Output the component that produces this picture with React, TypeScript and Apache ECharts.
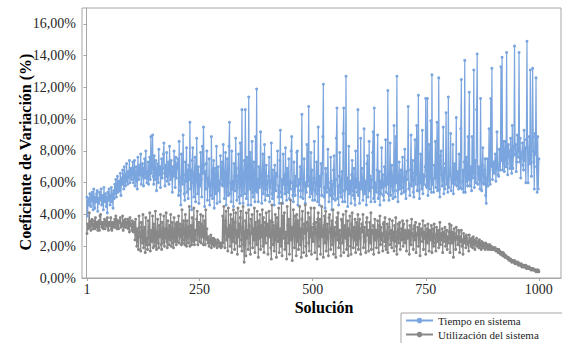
import React, { useEffect, useRef } from "react";
import * as echarts from "echarts";

// Coeficiente de variación (%) — Tiempo en sistema, by blocks of solutions
const tiempo001_100 = [5.1,3.9,4.8,5.0,4.6,5.3,4.9,4.5,5.2,5.4,4.9,4.3,5.6,5.0,4.4,5.1,4.8,5.3,5.5,4.2,5.0,4.7,5.4,4.9,5.1,5.6,4.6,4.9,5.2,4.3,5.7,5.0,4.8,5.3,4.5,5.1,4.1,5.4,4.9,5.6,5.0,4.6,5.2,5.7,4.8,5.3,4.4,5.5,5.0,5.9,5.3,6.2,5.1,5.6,6.4,5.4,5.8,6.1,5.5,6.6,5.2,6.3,5.9,6.8,6.0,5.6,7.0,6.2,5.8,6.5,7.2,6.1,5.9,6.7,6.3,7.4,6.0,6.6,6.9,6.2];
const tiempo101_200 = [6.8,7.3,6.0,6.5,7.4,5.8,6.3,7.0,6.1,5.6,7.6,6.7,6.2,7.1,6.5,7.8,5.9,6.4,7.2,6.6,5.8,6.9,7.5,6.3,8.0,6.7,6.0,6.4,7.3,5.9,6.8,7.6,6.2,8.9,6.6,7.0,9.0,6.4,5.9,7.7,6.2,6.9,7.4,5.5,6.7,7.2,6.0,8.1,6.5,7.0,5.7,6.8,7.5,6.3,6.9,7.8,8.5,6.6,5.8,7.1,6.4,7.9,6.1,6.7,7.3,5.9,8.3,6.8,6.2,7.4,6.6,5.4,7.0,6.4,8.0,6.9,5.7,7.6,6.3,7.2];
const tiempo201_300 = [6.9,7.5,5.2,8.6,6.3,5.5,4.6,7.8,6.4,5.9,9.0,6.5,5.3,4.9,7.3,6.1,8.2,5.4,6.8,5.0,7.1,6.2,9.8,5.6,6.8,4.3,7.4,8.2,6.0,5.1,6.6,7.6,4.8,6.1,8.8,6.4,5.3,7.0,4.7,6.5,5.8,7.9,6.2,5.1,8.3,6.6,9.5,7.1,4.5,6.7,5.6,7.2,8.0,4.9,6.3,5.8,7.5,4.6,6.0,5.2,8.9,6.2,5.0,6.8,7.4,4.4,6.9,5.7,5.3,8.3,4.7,6.4,7.0,5.5,6.1,4.8,7.7,5.9,6.6,7.3];
const tiempo301_400 = [5.8,8.4,6.2,5.0,6.7,7.9,4.6,5.4,7.5,6.1,5.2,8.3,9.8,5.3,6.0,4.8,8.0,5.6,6.1,4.5,7.2,6.4,5.5,8.8,6.9,4.9,5.7,6.4,7.8,5.1,4.7,8.5,6.2,5.2,10.6,5.9,4.7,6.6,7.4,5.3,10.6,6.8,5.0,7.6,5.8,4.6,11.4,6.3,5.6,7.9,4.6,6.3,8.6,5.4,5.1,7.3,6.0,4.8,8.9,5.5,11.9,5.4,6.2,4.8,7.0,5.7,5.9,9.2,6.4,4.7,6.5,7.8,5.3,6.0,8.4,4.9,5.6,7.1,6.1,5.2];
const tiempo401_500 = [5.2,6.4,7.6,4.8,5.7,6.1,8.5,5.3,5.0,6.8,5.7,4.6,7.1,5.9,5.5,6.6,6.4,8.0,5.1,5.8,4.7,7.4,9.3,5.4,5.1,6.2,4.7,7.8,5.9,6.5,5.3,8.2,5.6,4.9,6.9,6.6,5.4,7.5,5.0,6.1,5.6,8.0,8.9,6.0,5.2,4.8,7.3,5.7,5.2,6.4,5.8,7.9,8.0,4.6,5.5,6.2,5.9,7.0,5.1,6.7,10.3,5.5,5.0,6.3,7.5,5.8,4.7,6.0,5.4,8.4,5.8,6.1,10.8,6.3,5.1,5.6,7.9,5.3,6.8,4.9];
const tiempo501_600 = [5.6,6.3,8.6,4.9,5.5,6.0,7.3,5.3,4.8,9.5,5.9,4.6,6.4,5.8,7.2,5.2,6.6,8.9,12.2,5.1,5.7,4.4,6.9,6.5,5.4,5.7,8.1,6.0,4.8,5.6,5.2,7.6,6.1,4.3,5.9,5.0,6.8,7.7,5.3,4.9,6.2,8.8,10.7,5.0,5.8,4.6,6.4,7.9,5.4,5.1,6.2,6.7,4.8,9.1,10.7,5.5,4.8,6.0,12.7,5.6,6.3,4.5,5.9,8.3,5.3,5.7,6.1,4.7,6.5,7.4,5.5,5.2,6.9,5.0,4.6,8.0,5.7,6.2,5.4,10.6];
const tiempo601_700 = [5.2,6.0,4.7,5.8,8.8,5.6,6.9,6.3,4.9,5.5,9.4,5.3,6.1,5.8,4.6,7.2,7.7,5.1,5.6,8.6,5.5,6.4,4.8,6.2,5.7,7.9,9.2,5.0,10.7,4.8,6.0,5.6,5.4,6.8,9.0,5.0,5.7,6.7,4.6,6.1,5.3,8.2,5.7,6.5,5.2,4.9,7.0,5.8,8.7,5.4,6.3,5.9,11.8,5.3,4.9,6.6,8.5,5.2,5.8,7.1,6.4,5.0,5.5,9.6,6.2,5.1,8.9,6.0,12.7,5.5,4.8,6.4,7.3,5.6,5.9,6.8,5.3,6.6,7.6,5.7];
const tiempo701_800 = [5.4,6.3,8.1,5.5,5.0,6.7,6.2,7.4,10.8,5.6,5.9,5.2,6.8,9.0,5.8,6.3,7.4,5.4,5.1,6.6,8.7,5.9,6.9,9.6,5.5,6.1,11.5,5.5,5.0,6.4,7.8,6.0,5.6,9.3,5.3,6.5,5.9,6.4,7.0,11.3,5.8,5.7,11.3,5.2,6.1,8.4,5.6,6.8,9.9,5.4,12.8,5.9,6.2,5.4,7.1,6.3,8.6,5.7,6.6,9.8,5.5,6.0,12.6,5.6,5.1,7.7,8.0,6.5,5.8,6.2,9.5,5.3,6.9,5.6,7.2,10.4,5.9,6.3,5.4,11.4];
const tiempo801_900 = [5.7,6.6,6.4,9.1,5.5,6.2,6.0,8.4,5.3,6.5,7.2,5.9,6.3,10.1,5.8,6.2,6.7,5.6,7.8,6.0,5.7,9.4,12.5,5.6,6.1,6.8,5.4,7.3,13.7,5.4,6.4,7.6,6.1,5.8,8.9,6.2,11.7,5.8,6.5,7.0,5.5,8.9,6.3,6.7,13.1,5.7,6.3,7.4,6.0,10.6,14.1,5.9,6.6,7.0,6.2,5.6,11.3,6.4,5.5,7.1,8.2,6.0,5.9,6.8,7.5,5.2,4.7,6.3,7.5,5.8,6.6,9.4,6.1,5.9,11.3,7.0,13.2,6.2,6.8,7.3];
const tiempo901_1000 = [6.6,7.3,7.8,6.1,6.9,9.2,7.0,6.5,6.4,8.1,7.2,6.8,13.3,7.4,13.9,6.8,7.5,8.6,6.7,7.9,8.6,7.0,14.2,7.2,6.5,8.4,8.0,7.6,6.9,8.8,7.1,6.6,9.6,6.9,7.7,8.3,14.6,7.8,8.4,6.7,7.3,9.0,7.6,8.1,14.2,7.3,8.8,6.3,7.5,7.9,8.5,7.1,6.8,9.3,7.4,8.2,6.0,8.7,14.9,8.2,6.0,7.6,8.9,7.2,13.1,7.7,6.4,8.0,13.2,8.9,7.3,5.6,9.1,7.8,12.6,7.0,5.4,8.9,5.6,7.5];

// Coeficiente de variación (%) — Utilización del sistema
const util001_100 = [2.8,3.4,3.1,3.3,4.1,3.2,3.5,3.0,3.6,3.7,3.3,3.1,3.4,3.6,3.1,3.8,3.2,3.4,3.5,3.0,3.3,3.6,3.0,3.9,4.0,3.4,3.2,3.5,3.3,3.1,3.5,3.7,3.1,3.4,3.6,3.3,3.8,3.2,3.0,3.5,3.4,3.3,3.8,3.1,3.0,3.5,3.4,3.2,3.5,3.7,3.2,3.9,3.7,3.1,3.3,3.6,3.1,3.5,3.6,3.8,3.2,3.4,3.3,3.9,3.0,3.6,3.5,3.2,3.7,3.4,3.2,3.5,3.7,3.1,3.6,2.9,3.8,3.3,3.4,3.0];
const util101_200 = [3.6,3.3,2.9,3.5,3.3,2.4,3.7,3.0,2.0,3.1,2.6,1.8,3.9,3.2,2.6,1.7,3.5,2.8,2.2,4.0,1.9,2.7,3.2,1.6,3.8,2.1,2.5,1.8,3.6,2.9,2.1,4.1,1.7,2.4,3.0,2.3,3.9,1.9,3.4,2.6,2.0,4.2,2.4,1.8,2.9,3.7,2.2,1.9,3.3,2.6,4.0,2.1,1.8,3.5,2.7,2.2,3.9,2.0,3.1,2.5,4.1,2.3,1.9,3.6,2.8,2.1,3.3,2.4,4.0,2.0,2.7,3.5,2.2,1.9,3.8,2.6,2.3,3.4,2.1,3.5];
const util201_300 = [2.3,3.1,3.9,2.2,2.8,3.4,2.6,2.1,4.3,2.2,3.0,3.6,2.4,2.1,4.0,2.9,2.0,3.6,2.7,2.2,3.2,4.5,2.0,2.6,3.3,2.1,3.8,2.5,2.3,4.4,2.1,2.7,3.0,2.4,3.7,4.2,2.1,3.2,3.5,2.3,2.8,4.0,2.2,3.4,2.6,3.9,2.1,2.9,3.6,2.1,4.3,2.5,3.1,2.4,2.2,2.6,2.0,2.4,2.2,2.7,1.9,2.5,2.3,2.1,2.5,2.0,2.4,2.3,2.1,2.2,1.9,2.4,2.2,2.3,2.0,2.2,2.1,1.9,2.2,2.0];
const util301_400 = [3.9,2.2,4.5,2.8,1.9,3.6,4.2,2.4,3.1,1.7,4.4,2.6,3.3,2.0,4.0,2.9,1.6,3.7,2.3,4.3,2.7,1.8,3.5,4.1,2.2,3.0,1.5,4.4,2.6,3.4,2.0,3.8,4.2,2.4,1.7,3.2,4.5,2.1,1.0,2.9,3.6,1.4,4.1,2.5,3.0,1.8,4.3,3.3,2.2,1.5,3.7,2.8,4.0,1.9,3.1,2.4,4.4,1.6,3.5,2.7,2.1,4.2,3.0,1.3,3.6,2.5,4.0,1.8,3.3,2.6,4.3,2.0,3.8,1.6,2.9,3.5,2.2,4.1,2.7,3.4];
const util401_500 = [1.5,3.0,4.2,2.6,3.6,1.9,1.2,4.6,3.5,2.1,3.3,1.7,2.4,4.0,2.8,1.3,3.8,3.0,2.3,4.4,1.6,2.7,3.1,2.0,4.7,1.4,3.5,3.9,2.5,4.1,1.8,2.2,2.9,1.2,4.5,3.3,2.2,3.7,1.5,2.6,4.9,2.4,3.2,1.1,2.8,4.3,2.7,1.9,3.9,3.4,1.4,4.0,2.3,3.6,1.8,2.9,4.5,2.1,3.1,1.3,3.7,4.2,2.5,1.6,3.4,2.8,4.6,2.0,1.4,3.5,3.0,4.1,2.2,1.7,3.8,2.6,4.4,1.5,3.2,2.4];
const util501_600 = [2.3,3.4,4.4,1.6,2.9,3.5,2.8,1.2,3.7,4.1,2.0,3.2,3.7,1.5,2.7,4.5,2.6,3.1,1.3,3.3,3.9,2.2,4.2,1.7,2.6,3.4,2.5,1.4,3.8,4.0,2.9,1.8,3.1,3.6,2.1,4.3,1.5,2.8,3.2,2.7,1.3,3.5,3.8,2.4,4.1,1.9,2.6,3.0,2.2,1.4,3.7,3.6,2.2,4.0,1.6,2.9,3.3,2.5,4.2,1.8,2.3,3.6,1.4,3.1,2.7,3.9,2.0,1.5,3.4,4.1,2.6,1.9,3.2,2.4,3.7,1.6,2.8,3.5,2.1,4.0];
const util601_700 = [1.8,2.9,3.7,2.5,1.5,3.1,3.4,2.9,4.0,1.9,2.6,3.2,2.3,1.6,3.5,3.8,2.7,3.0,1.7,2.4,3.5,2.2,4.1,1.8,3.0,2.8,3.3,1.5,2.5,3.7,2.4,3.0,1.9,2.7,3.6,2.6,1.6,3.3,3.9,2.1,3.2,2.4,2.8,1.7,3.4,3.5,2.3,3.8,2.0,1.8,2.9,3.4,1.6,2.5,3.2,3.7,2.1,2.7,3.0,1.9,3.6,2.4,2.9,1.7,3.3,2.3,3.8,2.0,1.5,2.9,3.4,2.2,2.8,3.5,1.8,2.6,3.1,2.4,3.6,2.0];
const util701_800 = [3.4,2.6,2.2,3.0,2.8,1.7,3.6,2.5,3.0,2.9,1.5,3.3,2.4,2.1,3.7,2.8,2.6,1.8,3.1,3.3,2.4,3.5,1.6,2.7,2.8,3.2,2.0,2.9,3.4,1.4,2.7,3.1,3.0,2.3,3.6,1.8,2.9,2.5,3.3,1.5,2.6,3.1,2.2,3.4,2.9,1.7,3.0,2.4,2.8,3.3,1.6,2.6,3.1,2.0,3.4,2.7,2.2,1.7,3.2,2.8,2.3,3.0,1.9,2.6,3.5,2.1,2.8,2.4,3.1,1.6,2.9,2.3,2.7,3.2,2.0,2.5,3.0,1.8,2.6,2.2];
const util801_900 = [2.9,3.4,1.6,2.6,3.3,2.2,2.9,2.7,1.3,3.1,2.8,2.4,1.8,3.2,2.6,2.5,2.1,3.0,2.9,1.6,2.6,2.3,3.0,2.0,2.4,1.5,2.8,2.2,2.6,2.4,1.9,2.7,2.5,2.1,2.3,1.7,2.7,2.4,2.2,2.0,2.5,2.3,1.9,2.6,2.1,2.4,1.8,2.3,2.2,2.5,2.0,2.1,2.3,1.9,2.4,2.0,2.2,1.8,2.3,2.1,1.9,2.2,2.0,2.1,1.8,2.2,1.9,2.0,2.1,1.8,2.0,1.9,2.1,1.8,1.9,2.0,1.8,1.9,1.8,1.9];
const util901_1000 = [1.9,1.8,1.9,1.7,1.8,1.8,1.7,1.6,1.8,1.6,1.7,1.5,1.6,1.6,1.5,1.4,1.6,1.4,1.5,1.3,1.4,1.4,1.3,1.3,1.2,1.3,1.2,1.1,1.2,1.2,1.1,1.0,1.1,1.1,1.0,1.0,1.1,0.9,1.0,1.0,0.9,0.9,1.0,0.8,0.9,0.9,0.8,0.8,0.9,0.7,0.8,0.8,0.7,0.8,0.7,0.7,0.8,0.6,0.7,0.7,0.6,0.6,0.7,0.6,0.6,0.5,0.6,0.6,0.5,0.6,0.5,0.5,0.5,0.5,0.4,0.5,0.5,0.4,0.5,0.4];

const xTickLabels = [1, 250, 500, 750, 1000];
const yTickLabels = [0, 2, 4, 6, 8, 10, 12, 14, 16];
const seriesNames = ["Tiempo en sistema", "Utilización del sistema"];
const firstSolution = 1;
const lastSolution = 1000;

const tiempo = [
  ...tiempo001_100, ...tiempo101_200, ...tiempo201_300, ...tiempo301_400, ...tiempo401_500,
  ...tiempo501_600, ...tiempo601_700, ...tiempo701_800, ...tiempo801_900, ...tiempo901_1000,
];
const util = [
  ...util001_100, ...util101_200, ...util201_300, ...util301_400, ...util401_500,
  ...util501_600, ...util601_700, ...util701_800, ...util801_900, ...util901_1000,
];

const toPoints = (vals: number[]) => {
  const n = vals.length;
  return vals.map((v, i) => [firstSolution + (i * (lastSolution - firstSolution)) / (n - 1), v]);
};

const FONT = "Liberation Serif";

export default function App() {
  const ref = useRef<HTMLDivElement>(null);
  useEffect(() => {
    document.body.style.margin = "0";
    if (!ref.current) return;
    const chart = echarts.init(ref.current, null, { renderer: "svg" });
    chart.setOption({
      animation: false,
      backgroundColor: "#ffffff",
      textStyle: { fontFamily: FONT },
      grid: {
        left: 82, top: 8, right: 1, bottom: 65,
        show: true, borderColor: "#a6a6a6", borderWidth: 1,
      },
      xAxis: {
        type: "value", min: -10, max: 1049,
        splitLine: { show: false },
        axisLine: { show: true, lineStyle: { color: "#a6a6a6" } },
        axisTick: { show: true, length: 3, customValues: xTickLabels, lineStyle: { color: "#a6a6a6" } },
        axisLabel: {
          customValues: xTickLabels, margin: 4, color: "#262626", fontSize: 14,
          fontFamily: FONT,
          formatter: (v: number) => String(v),
        },
      },
      yAxis: {
        type: "value", min: 0, max: 17,
        splitLine: { show: false },
        axisLine: { show: true, lineStyle: { color: "#a6a6a6" } },
        axisTick: { show: true, length: 3, customValues: yTickLabels, lineStyle: { color: "#a6a6a6" } },
        axisLabel: {
          customValues: yTickLabels, margin: 6, color: "#262626", fontSize: 14,
          fontFamily: FONT,
          formatter: (v: number) => v.toFixed(2).replace(".", ",") + "%",
        },
      },
      legend: {
        orient: "vertical", left: 405, top: 315,
        padding: 0, z: 10,
        itemWidth: 27, itemHeight: 7, itemGap: 3,
        textStyle: { fontSize: 11, color: "#262626", fontFamily: FONT },
        data: seriesNames,
      },
      graphic: [
        {
          type: "rect", z: 1,
          shape: { x: 401, y: 313, width: 200, height: 60 },
          style: { fill: "#ffffff", stroke: "#a6a6a6", lineWidth: 1 },
        },
        {
          type: "text", x: 25, y: 152, rotation: Math.PI / 2,
          style: {
            text: "Coeficiente de Variación (%)", fill: "#000", fontSize: 16, fontWeight: "bold",
            fontFamily: FONT, textAlign: "center", textVerticalAlign: "middle",
          },
        },
        {
          type: "text", x: 324, y: 307,
          style: {
            text: "Solución", fill: "#000", fontSize: 16, fontWeight: "bold",
            fontFamily: FONT, textAlign: "center", textVerticalAlign: "middle",
          },
        },
      ],
      series: [
        {
          name: seriesNames[0], type: "line", data: toPoints(tiempo),
          symbol: "circle", symbolSize: 3, showSymbol: true,
          itemStyle: { color: "#7aa5de" },
          lineStyle: { color: "#7aa5de", width: 1.2 },
        },
        {
          name: seriesNames[1], type: "line", data: toPoints(util),
          symbol: "circle", symbolSize: 3, showSymbol: true,
          itemStyle: { color: "#888888" },
          lineStyle: { color: "#888888", width: 1.2 },
        },
      ],
    });
    return () => chart.dispose();
  }, []);
  return <div ref={ref} style={{ position: "fixed", left: 0, top: 0, width: 562, height: 343 }} />;
}
